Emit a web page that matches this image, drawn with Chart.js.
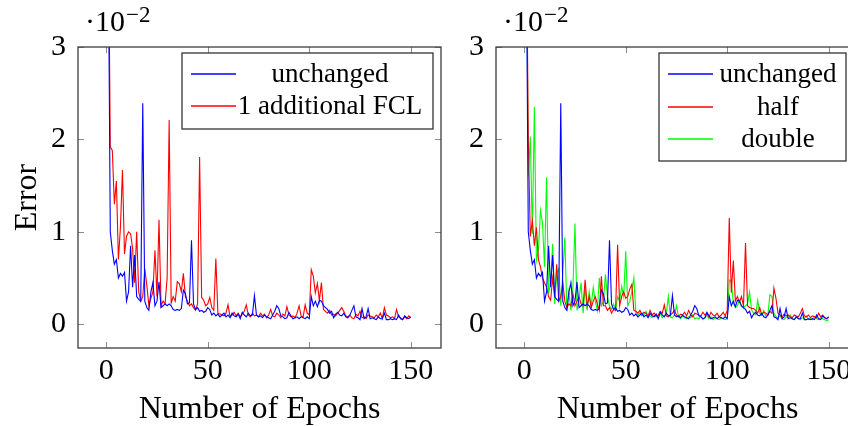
<!DOCTYPE html>
<html lang="en">
<head>
  <meta charset="UTF-8">
  <title>Error vs. Number of Epochs</title>
  <script src="https://cdn.jsdelivr.net/npm/chart.js@4.4.0/dist/chart.umd.min.js"></script>
  <style>
    html, body {
      margin: 0;
      padding: 0;
      background: #ffffff;
      width: 848px;
      height: 426px;
      overflow: hidden;
    }
    .panel {
      position: absolute;
      top: 0;
    }
    #panel-fcl { left: 0; }
    #panel-width { left: 460px; }
  </style>
</head>
<body>
  <div class="panel" id="panel-fcl"><canvas id="chart-fcl" width="460" height="426"></canvas></div>
  <div class="panel" id="panel-width"><canvas id="chart-width" width="420" height="426"></canvas></div>

  <script>
    // training epochs 1..150
    const epochs = Array.from({ length: 150 }, (_, i) => i + 1);

    const xTicks = [0, 50, 100, 150];
    const yTicks = [0, 1, 2, 3];

    // validation error, in units of 10^-2
    const unchanged = [
      4.2, 1.0, 0.8, 0.65, 0.7, 0.5, 0.55, 0.52, 0.56, 0.25,
      0.35, 0.85, 0.4, 0.75, 0.3, 0.27, 0.25, 2.39, 0.25, 0.18,
      0.15, 0.35, 0.45, 0.2, 0.25, 0.46, 0.18, 0.2, 0.22, 0.2,
      0.22, 0.2, 0.16, 0.15, 0.16, 0.15, 0.17, 0.37, 0.33, 0.22,
      0.23, 0.91, 0.22, 0.16, 0.18, 0.14, 0.15, 0.13, 0.14, 0.18,
      0.16, 0.1, 0.12, 0.09, 0.11, 0.08, 0.1, 0.12, 0.08, 0.1,
      0.07, 0.12, 0.09, 0.08, 0.11, 0.06, 0.13, 0.1, 0.08, 0.12,
      0.09, 0.1, 0.31, 0.1, 0.08, 0.09, 0.07, 0.1, 0.08, 0.07,
      0.06, 0.1, 0.14, 0.2, 0.17, 0.09, 0.08, 0.06, 0.07, 0.13,
      0.09, 0.06, 0.07, 0.08, 0.06, 0.08, 0.07, 0.06, 0.08, 0.06,
      0.3, 0.2, 0.25, 0.19, 0.26, 0.25, 0.2, 0.18, 0.16, 0.12,
      0.14, 0.07, 0.11, 0.13, 0.1, 0.09, 0.12, 0.08, 0.07, 0.1,
      0.15, 0.2, 0.08, 0.07, 0.05, 0.17, 0.06, 0.08, 0.17, 0.06,
      0.07, 0.06, 0.05, 0.08, 0.06, 0.06, 0.12, 0.05, 0.05, 0.06,
      0.05, 0.06, 0.05, 0.1, 0.06, 0.05, 0.09, 0.07, 0.06, 0.08
    ];

    const additionalFcl = [
      4.5, 1.92, 1.88, 1.3, 1.55, 0.7, 1.05, 1.67, 0.76, 0.95,
      1.0, 0.98, 0.82, 0.45, 1.0, 0.35, 0.25, 0.3, 0.6, 0.42,
      0.2, 0.28, 0.35, 0.8, 0.3, 1.13, 0.2, 0.25, 0.22, 0.5,
      2.21, 0.23, 0.3, 0.25, 0.46, 0.44, 0.35, 0.55, 0.3, 0.25,
      0.2, 0.22, 0.18, 0.15, 0.22, 1.81, 0.29, 0.26, 0.2, 0.22,
      0.29, 0.18, 0.15, 0.71, 0.12, 0.11, 0.1, 0.09, 0.12, 0.21,
      0.08, 0.1, 0.13, 0.09, 0.12, 0.08, 0.11, 0.14, 0.21, 0.1,
      0.08, 0.12, 0.09, 0.1, 0.08, 0.12, 0.09, 0.11, 0.07, 0.1,
      0.16, 0.09, 0.08, 0.12, 0.1, 0.07, 0.11, 0.09, 0.19, 0.1,
      0.08, 0.09, 0.07, 0.12, 0.2, 0.09, 0.08, 0.21, 0.12, 0.1,
      0.59, 0.52, 0.34, 0.44, 0.26, 0.45, 0.16, 0.14, 0.12, 0.15,
      0.1, 0.11, 0.09, 0.12, 0.15, 0.18, 0.14, 0.09, 0.08, 0.1,
      0.07, 0.06, 0.11, 0.09, 0.14, 0.07, 0.08, 0.06, 0.1, 0.09,
      0.08, 0.07, 0.1, 0.08, 0.12, 0.06, 0.18, 0.1, 0.09, 0.07,
      0.08, 0.06, 0.16, 0.08, 0.07, 0.05, 0.08, 0.06, 0.09, 0.07
    ];

    const half = [
      4.5, 2.0, 0.95, 1.12, 0.85, 1.05, 0.7, 0.62, 0.5, 0.45,
      0.4, 0.3, 0.26, 0.5, 0.3, 0.65, 0.25, 0.3, 0.45, 0.25,
      0.18, 0.22, 0.2, 0.33, 0.2, 0.25, 0.3, 0.22, 0.2, 0.48,
      0.2, 0.3, 0.18, 0.25, 0.3, 0.22, 0.15, 0.52, 0.2, 0.2,
      0.15, 0.18, 0.12, 0.16, 0.15, 0.86, 0.2, 0.3, 0.35, 0.28,
      0.3, 0.38, 0.43, 0.15, 0.14, 0.12, 0.15, 0.1, 0.13, 0.12,
      0.09, 0.15, 0.1, 0.12, 0.09, 0.1, 0.14, 0.12, 0.21, 0.09,
      0.08, 0.1, 0.12, 0.15, 0.1, 0.08, 0.11, 0.1, 0.13, 0.09,
      0.15, 0.1, 0.08, 0.12, 0.11, 0.1, 0.09, 0.13, 0.1, 0.12,
      0.08, 0.13, 0.1, 0.09, 0.12, 0.08, 0.1, 0.13, 0.09, 0.15,
      1.15, 0.34, 0.69, 0.25, 0.3, 0.24, 0.3, 0.2, 0.88, 0.2,
      0.18, 0.17, 0.17, 0.15, 0.12, 0.18, 0.1, 0.13, 0.12, 0.1,
      0.14, 0.12, 0.39, 0.28, 0.12, 0.1, 0.08, 0.11, 0.09, 0.1,
      0.08, 0.07, 0.1, 0.09, 0.08, 0.12, 0.17, 0.09, 0.08, 0.1,
      0.07, 0.09, 0.08, 0.07, 0.12, 0.08, 0.1, 0.07, 0.06, 0.08
    ];

    const double = [
      4.5, 1.6, 2.03, 0.98, 2.35, 0.69, 0.8, 1.23, 1.1, 0.62,
      1.59, 0.33, 0.45, 0.87, 0.22, 0.55, 0.6, 0.2, 0.55, 0.94,
      0.15, 0.35, 0.15, 0.4, 1.09, 0.15, 0.28, 0.45, 0.12, 0.4,
      0.15, 0.35, 0.2, 0.4, 0.25, 0.15, 0.5, 0.2, 0.25, 0.54,
      0.3, 0.2, 0.16, 0.22, 0.15, 0.3, 0.25, 0.41, 0.3, 0.79,
      0.2, 0.25, 0.35, 0.5, 0.12, 0.1, 0.12, 0.09, 0.1, 0.14,
      0.08, 0.09, 0.07, 0.1, 0.08, 0.09, 0.11, 0.07, 0.09, 0.12,
      0.3, 0.08, 0.07, 0.1, 0.2, 0.08, 0.06, 0.09, 0.07, 0.06,
      0.08, 0.07, 0.1, 0.06, 0.07, 0.06, 0.09, 0.05, 0.07, 0.1,
      0.06, 0.08, 0.05, 0.07, 0.06, 0.05, 0.07, 0.06, 0.05, 0.06,
      0.48, 0.46, 0.23, 0.18, 0.2, 0.26, 0.19, 0.18, 0.2, 0.22,
      0.35, 0.15, 0.12, 0.1, 0.26, 0.12, 0.1, 0.15, 0.09, 0.1,
      0.32, 0.3, 0.12, 0.08, 0.07, 0.09, 0.06, 0.05, 0.08, 0.07,
      0.1, 0.06, 0.05, 0.08, 0.06, 0.05, 0.07, 0.06, 0.09, 0.05,
      0.06, 0.05, 0.08, 0.06, 0.05, 0.07, 0.06, 0.05, 0.04, 0.05
    ];

    const serif = '"Liberation Serif", "Times New Roman", serif';

    // axis frame with inward tick marks on all four sides
    const framePlugin = {
      id: 'frame',
      afterDatasetsDraw(chart) {
        const { ctx, chartArea: a, scales } = chart;
        ctx.save();
        ctx.strokeStyle = '#8c8c8c';
        ctx.lineWidth = 1;
        ctx.beginPath();
        scales.x.ticks.forEach(t => {
          const px = Math.round(scales.x.getPixelForValue(t.value)) + 0.5;
          ctx.moveTo(px, a.top); ctx.lineTo(px, a.top + 6);
          ctx.moveTo(px, a.bottom); ctx.lineTo(px, a.bottom - 6);
        });
        scales.y.ticks.forEach(t => {
          const py = Math.round(scales.y.getPixelForValue(t.value)) + 0.5;
          ctx.moveTo(a.left, py); ctx.lineTo(a.left + 6, py);
          ctx.moveTo(a.right, py); ctx.lineTo(a.right - 6, py);
        });
        ctx.stroke();
        ctx.strokeStyle = '#3c3c3c';
        ctx.lineWidth = 1.3;
        ctx.strokeRect(a.left, a.top, a.right - a.left, a.bottom - a.top);

        // scale factor above the y axis
        ctx.fillStyle = '#000';
        ctx.textBaseline = 'alphabetic';
        ctx.textAlign = 'left';
        ctx.font = '30px ' + serif;
        const x0 = a.left + 7;
        ctx.fillText('\u00b710', x0, 31);
        const w = ctx.measureText('\u00b710').width;
        ctx.font = '23px ' + serif;
        ctx.fillText('\u22122', x0 + w + 1, 22);
        ctx.restore();
      }
    };

    // boxed legend: line sample on the left, centred label text
    const boxLegendPlugin = {
      id: 'boxLegend',
      afterDraw(chart, args, opts) {
        const { ctx } = chart;
        const [x0, y0, x1, y1] = opts.box;
        ctx.save();
        ctx.fillStyle = '#ffffff';
        ctx.fillRect(x0, y0, x1 - x0, y1 - y0);
        ctx.strokeStyle = '#333333';
        ctx.lineWidth = 1.3;
        ctx.strokeRect(x0, y0, x1 - x0, y1 - y0);
        ctx.font = '27px ' + serif;
        ctx.textAlign = 'center';
        ctx.textBaseline = 'middle';
        chart.data.datasets.forEach((ds, i) => {
          const y = opts.rows[i];
          ctx.strokeStyle = ds.borderColor;
          ctx.lineWidth = 1.3;
          ctx.beginPath();
          ctx.moveTo(opts.sample[0], y);
          ctx.lineTo(opts.sample[1], y);
          ctx.stroke();
          ctx.fillStyle = '#000';
          ctx.fillText(ds.label, opts.textX, y + 1);
        });
        ctx.restore();
      }
    };

    function makeChart(id, series, cfg) {
      return new Chart(document.getElementById(id), {
        type: 'line',
        data: {
          datasets: series.map(s => ({
            label: s.label,
            data: s.values.map((v, i) => ({ x: epochs[i], y: v })),
            borderColor: s.color,
            borderWidth: 1.1,
            pointRadius: 0,
            tension: 0,
            fill: false
          }))
        },
        options: {
          responsive: false,
          animation: false,
          events: [],
          layout: { padding: { top: 47, right: cfg.padRight, left: 0, bottom: 0 } },
          plugins: {
            legend: { display: false },
            tooltip: { enabled: false },
            boxLegend: cfg.legend
          },
          scales: {
            x: {
              type: 'linear',
              min: -13.9,
              max: 164.9,
              grid: { display: false, drawTicks: false },
              border: { display: false },
              afterBuildTicks: s => { s.ticks = xTicks.map(v => ({ value: v })); },
              afterFit: s => { s.height = 78; },
              ticks: {
                font: { family: serif, size: 30 },
                color: '#000',
                padding: 5,
                maxRotation: 0,
                autoSkip: false
              },
              title: {
                display: true,
                text: 'Number of Epochs',
                font: { family: serif, size: 32, lineHeight: 1.0 },
                color: '#000',
                padding: { top: 0, bottom: 0 }
              }
            },
            y: {
              min: -0.257,
              max: 3,
              grid: { display: false, drawTicks: false },
              border: { display: false },
              afterBuildTicks: s => { s.ticks = yTicks.map(v => ({ value: v })); },
              afterFit: s => { s.width = cfg.yWidth; },
              ticks: {
                font: { family: serif, size: 30 },
                color: '#000',
                padding: 12
              },
              title: {
                display: cfg.yTitle,
                text: 'Error',
                font: { family: serif, size: 32, lineHeight: 1.2 },
                color: '#000',
                padding: { top: 8 }
              }
            }
          }
        },
        plugins: [framePlugin, boxLegendPlugin]
      });
    }

    makeChart('chart-fcl', [
      { label: 'unchanged', values: unchanged, color: '#0000ff' },
      { label: '1 additional FCL', values: additionalFcl, color: '#ff0000' }
    ], {
      yWidth: 78,
      padRight: 19,
      yTitle: true,
      legend: { box: [182, 53, 433, 129], rows: [74, 106], sample: [191, 236], textX: 330 }
    });

    makeChart('chart-width', [
      { label: 'unchanged', values: unchanged, color: '#0000ff' },
      { label: 'half', values: half, color: '#ff0000' },
      { label: 'double', values: double, color: '#00ff00' }
    ], {
      yWidth: 36,
      padRight: 21,
      yTitle: false,
      legend: { box: [199, 53, 386, 161], rows: [74, 107, 139], sample: [208, 253], textX: 318 }
    });
  </script>
</body>
</html>
